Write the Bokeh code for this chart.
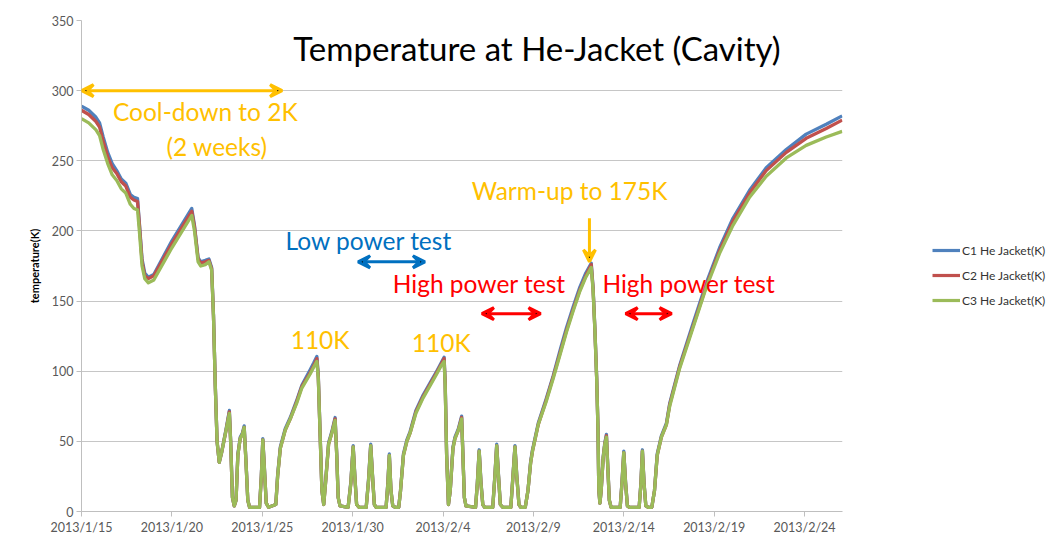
from bokeh.plotting import figure
from bokeh.layouts import row
from bokeh.models import (Range1d, FixedTicker, Legend, LegendItem, Label, Arrow,
                          VeeHead)
from bokeh.embed import file_html
from bokeh.resources import INLINE

# ---- data (days since 2013/1/15, temperature in K) ----
days = [0.0, 0.4, 0.8, 1.0, 1.2, 1.45, 1.7, 1.95, 2.2, 2.45, 2.7, 2.9, 3.1, 3.2, 3.35, 3.5, 3.7, 4.0, 5.0, 6.1,
        6.25, 6.45, 6.6, 6.85, 7.05, 7.2, 7.3, 7.4, 7.5, 7.62, 7.75, 8.0, 8.18, 8.25, 8.35, 8.45, 8.55, 8.65, 8.78, 8.9,
        9.0, 9.1, 9.2, 9.3, 9.85, 9.95, 10.03, 10.12, 10.22, 10.35, 10.75, 10.85, 11.0, 11.27, 11.55, 11.9, 12.19, 12.65, 12.85, 13.02,
        13.1, 13.2, 13.3, 13.4, 13.5, 13.67, 13.85, 14.03, 14.12, 14.2, 14.3, 14.75, 14.9, 15.03, 15.12, 15.22, 15.35, 15.75, 15.88, 16.0,
        16.1, 16.2, 16.3, 16.85, 16.95, 17.03, 17.12, 17.22, 17.35, 17.55, 17.65, 17.81, 18.0, 18.18, 18.5, 18.9, 19.3, 19.65, 19.9, 20.06,
        20.12, 20.2, 20.3, 20.4, 20.55, 20.66, 20.85, 21.03, 21.1, 21.18, 21.27, 21.8, 21.9, 22.0, 22.1, 22.2, 22.3, 22.75, 22.87, 22.97,
        23.07, 23.17, 23.3, 23.75, 23.87, 23.98, 24.08, 24.2, 24.3, 24.55, 24.7, 24.85, 24.95, 25.27, 25.7, 26.1, 26.5, 26.83, 27.2, 27.57,
        27.9, 28.2, 28.3, 28.4, 28.5, 28.57, 28.62, 28.68, 28.75, 28.86, 28.95, 29.04, 29.12, 29.2, 29.3, 29.8, 29.9, 30.0, 30.1, 30.2,
        30.3, 30.85, 30.95, 31.03, 31.12, 31.22, 31.35, 31.55, 31.7, 31.85, 32.08, 32.36, 32.54, 33.09, 33.83, 34.57, 35.3, 36.04, 36.96, 37.88,
        38.99, 40.09, 41.2, 42.08]

c1 = [289, 286, 281, 277, 267, 256, 248, 243, 237, 234, 226, 224, 223, 206, 180, 170, 167, 169, 193, 216,
      204, 181, 178, 179, 180, 174, 141, 91, 50, 35, 42, 59, 72, 51, 10, 4, 8, 41, 53, 56,
      61, 36, 8, 3, 3, 26, 52, 31, 6, 3, 5, 26, 46, 59, 67, 79, 90, 101, 106, 110.5,
      97, 56, 15, 5, 21, 49, 57, 67, 41, 10, 4, 3, 21, 47, 26, 5, 3, 3, 23, 48,
      26, 5, 3, 3, 21, 41, 15, 4, 3, 3, 15, 41, 51, 57, 72, 83, 92, 100, 106, 110,
      92, 41, 5, 15, 46, 53, 59, 68, 41, 10, 4, 3, 21, 44, 21, 5, 3, 3, 26, 48,
      26, 5, 3, 3, 26, 47, 26, 5, 3, 3, 15, 36, 44, 63, 80, 97, 116, 131, 146, 160,
      170, 177, 160, 131, 96, 60, 15, 6, 15, 39, 49, 55, 31, 8, 3, 3, 21, 43, 21, 4,
      3, 3, 21, 44, 21, 4, 3, 3, 15, 41, 54, 63, 77, 104, 134, 163, 188, 209, 229, 245,
      258, 269, 276, 282]

c2 = [286, 283, 278, 274, 264, 253, 245, 241, 235, 232, 224, 222, 221, 205, 178, 168, 166, 168, 191, 214,
      203, 180, 177, 178, 179, 173, 140, 90, 50, 35, 42, 58, 71, 50, 10, 4, 8, 40, 52, 55,
      60, 35, 8, 3, 3, 25, 51, 30, 6, 3, 5, 25, 45, 58, 66, 78, 89, 99, 104, 109,
      96, 55, 15, 5, 20, 48, 56, 66, 40, 10, 4, 3, 20, 46, 25, 5, 3, 3, 22, 47,
      25, 5, 3, 3, 20, 40, 15, 4, 3, 3, 15, 40, 50, 56, 71, 82, 91, 99, 105, 109,
      91, 40, 5, 15, 45, 52, 58, 67, 40, 10, 4, 3, 20, 43, 20, 5, 3, 3, 25, 47,
      25, 5, 3, 3, 25, 46, 25, 5, 3, 3, 15, 35, 43, 62, 79, 96, 114, 129, 144, 158,
      168, 176, 159, 130, 95, 60, 15, 6, 15, 38, 48, 54, 30, 8, 3, 3, 20, 42, 20, 4,
      3, 3, 20, 43, 20, 4, 3, 3, 15, 40, 53, 62, 76, 103, 132, 161, 186, 207, 227, 243,
      256, 266, 273, 279]

c3 = [280, 277, 272, 268, 258, 248, 240, 236, 230, 227, 219, 216, 215, 200, 175, 166, 163, 165, 188, 211,
      200, 178, 175, 176, 178, 172, 140, 90, 50, 35, 42, 58, 70, 50, 10, 4, 8, 40, 52, 55,
      60, 35, 8, 3, 3, 25, 51, 30, 6, 3, 5, 25, 45, 58, 66, 77, 88, 98, 103, 107,
      95, 55, 15, 5, 20, 48, 56, 65, 40, 10, 4, 3, 20, 46, 25, 5, 3, 3, 22, 47,
      25, 5, 3, 3, 20, 40, 15, 4, 3, 3, 15, 40, 50, 56, 70, 81, 90, 98, 104, 107,
      90, 40, 5, 15, 45, 52, 58, 66, 40, 10, 4, 3, 20, 43, 20, 5, 3, 3, 25, 47,
      25, 5, 3, 3, 25, 46, 25, 5, 3, 3, 15, 35, 43, 62, 78, 95, 113, 128, 143, 157,
      167, 174, 158, 130, 95, 60, 15, 6, 15, 38, 48, 53, 30, 8, 3, 3, 20, 42, 20, 4,
      3, 3, 20, 43, 20, 4, 3, 3, 15, 40, 53, 62, 75, 102, 131, 160, 184, 204, 224, 239,
      252, 261, 267, 271]

series_names = ["C1 He Jacket(K)", "C2 He Jacket(K)", "C3 He Jacket(K)"]
series_colors = ["#4F81BD", "#C0504D", "#9BBB59"]

x_ticks = [0, 5, 10, 15, 20, 25, 30, 35, 40]
x_tick_labels = ["2013/1/15", "2013/1/20", "2013/1/25", "2013/1/30", "2013/2/4",
                 "2013/2/9", "2013/2/14", "2013/2/19", "2013/2/24"]
y_ticks = [0, 50, 100, 150, 200, 250, 300, 350]

FONT = "Lato"
ORANGE = "#FFC000"
BLUE = "#0070C0"
RED = "#FF0000"

MAIN_W = 846
p = figure(width=MAIN_W, height=544, output_backend="svg", toolbar_location=None,
           x_range=Range1d(0, 42.1), y_range=Range1d(0, 350),
           min_border_left=81, min_border_top=20, min_border_bottom=33, min_border_right=4)
p.outline_line_color = None
p.background_fill_color = "white"

for vals, col in zip([c1, c2, c3], series_colors):
    p.line(days, vals, line_color=col, line_width=3.3, line_join="round")

# axes
p.xaxis.ticker = FixedTicker(ticks=x_ticks)
p.xaxis.major_label_overrides = {t: l for t, l in zip(x_ticks, x_tick_labels)}
p.yaxis.ticker = FixedTicker(ticks=y_ticks)
for ax in (p.xaxis[0], p.yaxis[0]):
    ax.axis_line_color = "#bfbfbf"
    ax.major_tick_line_color = "#bfbfbf"
    ax.major_tick_in = 0
    ax.major_tick_out = 5
    ax.minor_tick_line_color = None
    ax.major_label_text_font = FONT
    ax.major_label_text_font_size = "12.5px"
    ax.major_label_text_color = "#595959"
    ax.major_label_standoff = 3
p.yaxis.axis_label = "temperature(K)"
p.yaxis.axis_label_text_font = FONT
p.yaxis.axis_label_text_font_style = "bold"
p.yaxis.axis_label_text_font_size = "11px"
p.yaxis.axis_label_text_color = "#000000"
p.yaxis.axis_label_standoff = 8

p.xgrid.grid_line_color = None
p.ygrid.grid_line_color = "#c6c6c6"
p.ygrid.grid_line_width = 1

# title
p.add_layout(Label(x=25.2, y=330.7, text="Temperature at He-Jacket (Cavity)",
                   text_font=FONT, text_font_size="33px", text_color="#000000",
                   text_align="center", text_baseline="middle"))

def note(x, y, txt, color, size="24.5px"):
    p.add_layout(Label(x=x, y=y, text=txt, text_font=FONT, text_font_size=size,
                       text_color=color, text_align="center", text_baseline="middle"))

def arrow(x0, y0, x1, y1, color, both=True):
    p.add_layout(Arrow(x_start=x0, y_start=y0, x_end=x1, y_end=y1,
                       line_color=color, line_width=3,
                       start=VeeHead(size=12, line_color=color, line_width=3) if both else None,
                       end=VeeHead(size=12, line_color=color, line_width=3)))

note(6.85, 285, "Cool-down to 2K", ORANGE)
note(7.5, 260, "(2 weeks)", ORANGE)
arrow(0.0, 300, 11.1, 300, ORANGE)

note(15.9, 193, "Low power test", BLUE)
arrow(15.3, 178, 19.0, 178, BLUE)

note(22.0, 162.5, "High power test", RED)
arrow(22.15, 141, 25.4, 141, RED)

note(27.0, 229, "Warm-up to 175K", ORANGE)
arrow(28.1, 209, 28.1, 178, ORANGE, both=False)

note(33.6, 162.5, "High power test", RED)
arrow(30.1, 141, 32.65, 141, RED)

note(13.2, 122.6, "110K", ORANGE)
note(19.9, 120.5, "110K", ORANGE)

# legend panel (separate figure to the right of the plot area); its series
# lines lie outside its visible 0..1 range, so only the legend shows
LEG_W = 1048 - MAIN_W
pl = figure(width=LEG_W, height=544, output_backend="svg", toolbar_location=None,
            x_range=Range1d(0, 1), y_range=Range1d(0, 1),
            min_border=0, x_axis_type=None, y_axis_type=None)
pl.outline_line_color = None
pl.grid.visible = False
leg_renderers = [pl.line(days, vals, line_color=col, line_width=3.2)
                 for vals, col in zip([c1, c2, c3], series_colors)]
legend = Legend(items=[LegendItem(label=n, renderers=[r]) for n, r in zip(series_names, leg_renderers)],
                location=(86, 201), orientation="vertical",
                glyph_width=28, glyph_height=20, label_height=20, spacing=5,
                label_standoff=2, padding=0, margin=0,
                border_line_color=None, background_fill_alpha=0,
                label_text_font=FONT, label_text_font_size="12px", label_text_color="#333333")
pl.add_layout(legend)

layout = row(p, pl)
open("out.html", "w").write(file_html(layout, INLINE))
